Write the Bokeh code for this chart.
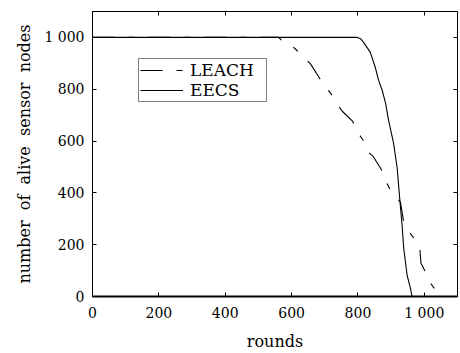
from bokeh.plotting import figure
from bokeh.models import LinearAxis, FixedTicker, Legend, LegendItem, Range1d
from bokeh.embed import file_html
from bokeh.resources import INLINE

# Alive sensor nodes per round for the two protocols
leach_rounds = [0, 561, 571, 585, 601, 632, 657, 682, 692, 720, 732, 752, 785, 789,
                815, 827, 845, 870, 877, 898, 918, 928, 938, 946, 973, 986, 990,
                1003, 1008, 1033, 1038, 1100]
leach_alive = [1000, 1000, 987, 978, 968, 930, 898, 847, 828, 780, 752, 716, 675, 650,
               605, 561, 542, 491, 463, 410, 379, 364, 287, 264, 217, 192, 128,
               96, 71, 26, 0, 0]

eecs_rounds = [0, 798, 808, 817, 837, 852, 862, 873, 883, 892, 907, 918, 926, 933,
               938, 948, 958, 963, 1100]
eecs_alive = [1000, 1000, 995, 981, 943, 885, 835, 796, 747, 682, 594, 498, 376, 275,
              185, 83, 32, 0, 0]

x_ticks = [0, 200, 400, 600, 800, 1000]
y_ticks = [0, 200, 400, 600, 800, 1000]
tick_text = {1000: "1 000"}

SERIF = "DejaVu Serif"

p = figure(width=460, height=353,
           x_range=Range1d(0, 1100), y_range=Range1d(0, 1100),
           output_backend="svg", toolbar_location=None,
           min_border_left=92, min_border_right=3,
           min_border_top=11, min_border_bottom=54)

p.grid.visible = False
p.outline_line_color = "black"
p.outline_line_width = 1
p.background_fill_color = "white"
p.border_fill_color = "white"

r_leach = p.line(leach_rounds, leach_alive, line_color="black", line_width=1.1,
                 line_dash="22 14 6 14")
r_eecs = p.line(eecs_rounds, eecs_alive, line_color="black", line_width=1.1)

for ax, ticks in ((p.xaxis[0], x_ticks), (p.yaxis[0], y_ticks)):
    ax.ticker = FixedTicker(ticks=ticks)
    ax.major_label_overrides = tick_text
    ax.major_tick_in = 4
    ax.major_tick_out = 0
    ax.minor_tick_line_color = None
    ax.major_tick_line_color = "black"
    ax.axis_line_color = "black"
    ax.major_label_text_font = SERIF
    ax.major_label_text_font_size = "14px"
    ax.major_label_text_color = "black"
    ax.major_label_standoff = 8
    ax.axis_label_text_font = SERIF
    ax.axis_label_text_font_size = "16px"
    ax.axis_label_text_font_style = "normal"
    ax.axis_label_text_color = "black"

p.xaxis[0].axis_label = "rounds"
p.xaxis[0].axis_label_standoff = 8
p.xaxis[0].axis_line_width = 2
p.yaxis[0].axis_label = "number\u00a0 of\u00a0 alive\u00a0 sensor\u00a0 nodes"
p.yaxis[0].axis_label_standoff = 7

# mirrored inward ticks on the top and right edges of the box (no labels)
for side, ticks in (("above", x_ticks), ("right", y_ticks)):
    ax = LinearAxis(ticker=FixedTicker(ticks=ticks),
                    major_tick_in=4, major_tick_out=0,
                    major_tick_line_color="black",
                    minor_tick_line_color=None,
                    axis_line_color=None,
                    major_label_text_color=None,
                    major_label_standoff=0)
    p.add_layout(ax, side)

legend = Legend(items=[LegendItem(label="LEACH\u00a0\u00a0", renderers=[r_leach]),
                       LegendItem(label="EECS", renderers=[r_eecs])],
                location=(46, 194), margin=0, padding=1, spacing=0,
                glyph_width=43, glyph_height=18, label_height=18,
                label_standoff=7,
                label_text_font=SERIF, label_text_font_size="17px",
                label_text_color="black",
                border_line_color="black", border_line_width=1,
                background_fill_color="white", background_fill_alpha=1)
p.add_layout(legend)

open("out.html", "w").write(file_html(p, INLINE))
